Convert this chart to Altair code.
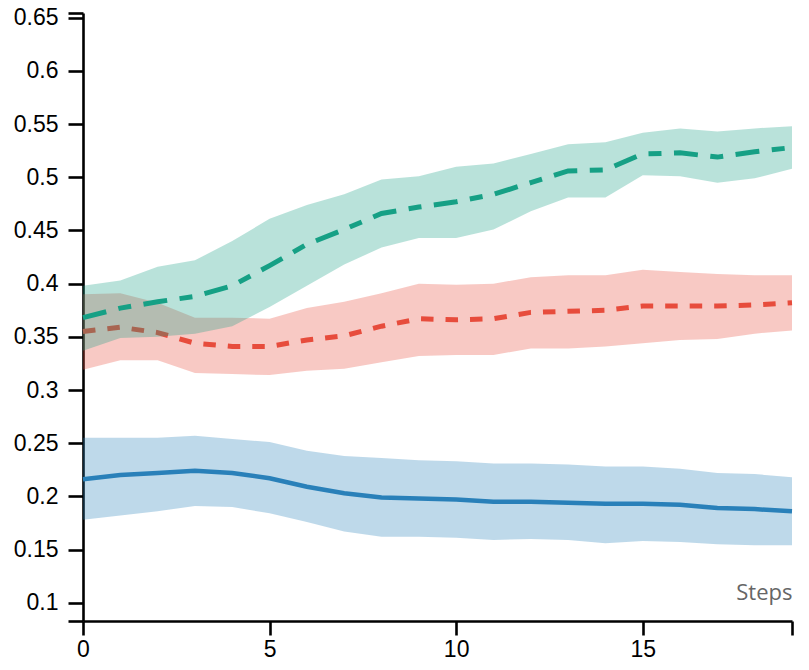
import altair as alt
import pandas as pd

steps = list(range(20))

blue_mean = [0.216, 0.220, 0.222, 0.224, 0.222, 0.217, 0.209, 0.203, 0.199, 0.198,
             0.197, 0.195, 0.195, 0.194, 0.193, 0.193, 0.192, 0.189, 0.188, 0.186]
blue_hi = [0.255, 0.255, 0.255, 0.257, 0.254, 0.251, 0.243, 0.238, 0.236, 0.234,
           0.233, 0.231, 0.231, 0.230, 0.228, 0.228, 0.226, 0.222, 0.221, 0.218]
blue_lo = [0.178, 0.182, 0.186, 0.191, 0.190, 0.184, 0.176, 0.167, 0.162, 0.162,
           0.161, 0.159, 0.160, 0.159, 0.156, 0.158, 0.157, 0.155, 0.154, 0.154]

red_mean = [0.355, 0.359, 0.354, 0.344, 0.341, 0.341, 0.347, 0.351, 0.360, 0.367,
            0.366, 0.367, 0.373, 0.374, 0.375, 0.379, 0.379, 0.379, 0.380, 0.382]
red_hi = [0.390, 0.391, 0.382, 0.368, 0.368, 0.367, 0.377, 0.383, 0.391, 0.400,
          0.399, 0.400, 0.406, 0.408, 0.408, 0.413, 0.411, 0.409, 0.408, 0.408]
red_lo = [0.319, 0.328, 0.328, 0.316, 0.315, 0.314, 0.318, 0.320, 0.326, 0.332,
          0.333, 0.333, 0.339, 0.339, 0.341, 0.344, 0.347, 0.348, 0.353, 0.356]

green_mean = [0.368, 0.377, 0.383, 0.388, 0.398, 0.417, 0.437, 0.451, 0.466, 0.472,
              0.477, 0.484, 0.495, 0.506, 0.507, 0.522, 0.523, 0.519, 0.524, 0.528]
green_hi = [0.398, 0.403, 0.416, 0.422, 0.440, 0.461, 0.474, 0.484, 0.498, 0.501,
            0.510, 0.513, 0.522, 0.531, 0.533, 0.542, 0.546, 0.543, 0.546, 0.548]
green_lo = [0.337, 0.349, 0.350, 0.353, 0.360, 0.378, 0.398, 0.418, 0.434, 0.443,
            0.443, 0.451, 0.468, 0.481, 0.481, 0.502, 0.501, 0.495, 0.499, 0.508]

series = [
    ("blue", "#2980b9", blue_mean, blue_lo, blue_hi),
    ("red", "#e74c3c", red_mean, red_lo, red_hi),
    ("green", "#16a085", green_mean, green_lo, green_hi),
]

rows = []
for name, _, m, lo, hi in series:
    for s, a, b, c in zip(steps, m, lo, hi):
        rows.append({"series": name, "step": s, "mean": a, "lo": b, "hi": c})
df = pd.DataFrame(rows)

Y_MIN, Y_MAX = 0.0828, 0.6545
y_ticks = [Y_MIN, 0.1, 0.15, 0.2, 0.25, 0.3, 0.35, 0.4, 0.45, 0.5, 0.55, 0.6, 0.65, Y_MAX]

x_enc = alt.X(
    "step:Q",
    scale=alt.Scale(domain=[0, 19], nice=False, zero=False),
    axis=alt.Axis(
        values=[0, 5, 10, 15, 19],
        labelExpr="datum.value == 19 ? '' : datum.label",
        labelFlush=False,
        title="Steps",
        titleAnchor="end",
        titleAlign="right",
        titleBaseline="alphabetic",
        titleY=-22,
        titleFont="Open Sans",
        titleFontSize=22,
        titleFontWeight="normal",
        titleColor="#666666",
        grid=False,
    ),
)


def y_enc(field):
    return alt.Y(
        field,
        type="quantitative",
        scale=alt.Scale(domain=[Y_MIN, Y_MAX], nice=False, zero=False),
        axis=alt.Axis(
            values=y_ticks,
            labelExpr="(datum.value < 0.09 || datum.value > 0.652) ? '' : format(datum.value, '.2~f')",
            labelFlush=False,
            title=None,
            grid=False,
        ),
    )


styles = {
    "blue": dict(strokeWidth=4.5),
    "red": dict(strokeWidth=5, strokeDash=[12.5, 12]),
    "green": dict(strokeWidth=5, strokeDash=[24, 12.5, 13, 12.5]),
}

layers = []
for name, color, *_ in series:
    sub = alt.Chart(df).transform_filter(alt.datum.series == name)
    band = sub.mark_area(color=color, opacity=0.3).encode(
        x=x_enc, y=y_enc("lo"), y2="hi:Q"
    )
    line = sub.mark_line(color=color, **styles[name]).encode(
        x=x_enc, y=y_enc("mean")
    )
    layers += [band, line]

chart = (
    alt.layer(*layers)
    .properties(
        width=709,
        height=608,
        autosize=alt.AutoSizeParams(type="none"),
        padding={"left": 75, "top": 5, "right": 9, "bottom": 41},
    )
    .configure_view(stroke=None)
    .configure_axis(
        domainColor="#000000",
        domainWidth=2.6,
        tickColor="#000000",
        tickWidth=2.6,
        labelFont="Liberation Sans",
        labelFontSize=23,
        labelColor="#000000",
    )
    .configure_axisX(tickSize=14, labelPadding=3)
    .configure_axisY(tickSize=15, labelPadding=10)
)

chart.save("out.html", embed_options={"renderer": "svg", "actions": False})
